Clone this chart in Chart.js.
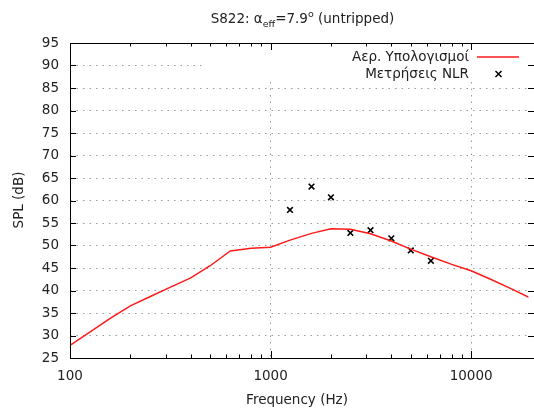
<!DOCTYPE html>
<html>
<head>
<meta charset="utf-8">
<script src="https://cdn.jsdelivr.net/npm/chart.js@4/dist/chart.umd.min.js"></script>
<style>
  html, body { margin: 0; padding: 0; background: #fff; }
  #wrap { width: 534px; height: 412px; }
</style>
</head>
<body>
<div id="wrap"><canvas id="c" width="534" height="412"></canvas></div>
<script>
// computed spectrum (Αερ. Υπολογισμοί)
const calcFreq = [100, 125, 160, 200, 250, 315, 400, 500, 630, 800, 1000, 1250, 1600, 2000, 2500, 3150, 4000, 5000, 6300, 8000, 10000, 12500, 16000, 20000];
const calcSpl  = [27.8, 30.7, 33.9, 36.6, 38.6, 40.7, 42.8, 45.5, 48.8, 49.4, 49.6, 51.2, 52.7, 53.7, 53.6, 52.6, 51.0, 49.2, 47.5, 45.8, 44.4, 42.5, 40.3, 38.2];
// NLR measurements (Μετρήσεις NLR)
const measFreq = [1250, 1600, 2000, 2500, 3150, 4000, 5000, 6300];
const measSpl  = [57.9, 63.1, 60.7, 52.8, 53.4, 51.6, 48.9, 46.6];
// tick labels
const xTickVals = [100, 1000, 10000];
const yTicks = [25, 30, 35, 40, 45, 50, 55, 60, 65, 70, 75, 80, 85, 90, 95];

const FONT = '"DejaVu Sans", sans-serif';
const FS = 13.5;
const TXT = '#222';
const GRID = '#9a9a9a';

const gnuplotDeco = {
  id: 'gnuplotDeco',
  beforeDatasetsDraw(chart) {
    const ctx = chart.ctx, a = chart.chartArea;
    // key box blanks the grid behind it
    ctx.save();
    ctx.fillStyle = '#fff';
    ctx.fillRect(205, a.top + 1, a.right - 205 + 2, 81 - a.top);
    ctx.restore();
  },
  afterDatasetsDraw(chart) {
    const ctx = chart.ctx, a = chart.chartArea;
    const xs = chart.scales.x, ys = chart.scales.y;
    ctx.save();
    // border
    ctx.strokeStyle = '#000';
    ctx.lineWidth = 1;
    ctx.beginPath();
    ctx.moveTo(a.left + 0.5, a.top + 0.5);
    ctx.lineTo(534, a.top + 0.5);
    ctx.moveTo(a.left + 0.5, a.top);
    ctx.lineTo(a.left + 0.5, a.bottom + 0.5);
    ctx.lineTo(534, a.bottom + 0.5);
    ctx.stroke();
    // inward ticks
    ctx.beginPath();
    yTicks.forEach(v => {
      const y = Math.round(ys.getPixelForValue(v)) + 0.5;
      ctx.moveTo(a.left, y); ctx.lineTo(a.left + 6, y);
      ctx.moveTo(534, y); ctx.lineTo(528, y);
    });
    for (let dec = 100; dec <= 10000; dec *= 10) {
      for (let m = 1; m <= 9; m++) {
        const v = dec * m;
        if (v > xs.max) continue;
        const x = Math.round(xs.getPixelForValue(v)) + 0.5;
        const len = m === 1 ? 7 : 3.5;
        ctx.moveTo(x, a.bottom); ctx.lineTo(x, a.bottom - len);
        ctx.moveTo(x, a.top); ctx.lineTo(x, a.top + len);
      }
    }
    ctx.stroke();

    // title
    ctx.fillStyle = TXT;
    ctx.textBaseline = 'alphabetic';
    const big = FS + 'px ' + FONT, small = '9.5px ' + FONT;
    const parts = [
      ['S822: α', big, 0], ['eff', small, 4], ['=7.9', big, 0], ['o', small, -6], [' (untripped)', big, 0]
    ];
    let w = 0;
    parts.forEach(p => { ctx.font = p[1]; w += ctx.measureText(p[0]).width; });
    let x = 302.5 - w / 2;
    ctx.textAlign = 'left';
    parts.forEach(p => { ctx.font = p[1]; ctx.fillText(p[0], x, 23 + p[2]); x += ctx.measureText(p[0]).width; });

    // axis titles
    ctx.font = FS + 'px ' + FONT;
    ctx.textAlign = 'center';
    ctx.textBaseline = 'middle';
    ctx.fillText('Frequency (Hz)', 297, 400);
    ctx.save();
    ctx.translate(19, 200);
    ctx.rotate(-Math.PI / 2);
    ctx.fillText('SPL (dB)', 0, 0);
    ctx.restore();

    // key
    ctx.textAlign = 'right';
    ctx.fillText(chart.data.datasets[0].label, 469, 57);
    ctx.fillText(chart.data.datasets[1].label, 469, 74);
    ctx.strokeStyle = '#ff1a1a';
    ctx.lineWidth = 1.5;
    ctx.beginPath();
    ctx.moveTo(477, 57); ctx.lineTo(519, 57);
    ctx.stroke();
    ctx.strokeStyle = '#000';
    ctx.beginPath();
    ctx.moveTo(495.5, 71); ctx.lineTo(501.5, 77);
    ctx.moveTo(501.5, 71); ctx.lineTo(495.5, 77);
    ctx.stroke();
    ctx.restore();
  }
};

new Chart(document.getElementById('c'), {
  type: 'line',
  data: {
    datasets: [
      {
        label: 'Αερ. Υπολογισμοί',
        data: calcFreq.map((f, i) => ({ x: f, y: calcSpl[i] })),
        borderColor: '#ff1a1a',
        borderWidth: 1.5,
        pointRadius: 0,
        tension: 0,
        fill: false
      },
      {
        label: 'Μετρήσεις NLR',
        data: measFreq.map((f, i) => ({ x: f, y: measSpl[i] })),
        showLine: false,
        pointStyle: 'crossRot',
        pointRadius: 4,
        pointBorderWidth: 1.6,
        borderColor: '#000',
        backgroundColor: '#000'
      }
    ]
  },
  options: {
    responsive: false,
    animation: false,
    devicePixelRatio: 1,
    layout: { padding: { top: 43, right: 0, left: 0, bottom: 0 } },
    plugins: { legend: { display: false }, title: { display: false }, tooltip: { enabled: false } },
    scales: {
      x: {
        type: 'logarithmic',
        min: 100,
        max: 19300,
        afterBuildTicks(scale) { scale.ticks = xTickVals.map(v => ({ value: v })); },
        afterFit(scale) { scale.height = 54; },
        ticks: {
          autoSkip: false,
          maxRotation: 0,
          padding: 10,
          color: TXT,
          font: { family: FONT, size: FS },
          callback: v => String(v)
        },
        grid: {
          drawTicks: false,
          color: c => (c.tick && c.tick.value === 100) ? 'rgba(0,0,0,0)' : GRID,
          lineWidth: 1
        },
        border: { display: false, dash: [1.5, 5] }
      },
      y: {
        min: 25,
        max: 95,
        afterBuildTicks(scale) { scale.ticks = yTicks.map(v => ({ value: v })); },
        afterFit(scale) { scale.width = 70; },
        ticks: {
          autoSkip: false,
          padding: 11,
          color: TXT,
          font: { family: FONT, size: FS }
        },
        grid: {
          drawTicks: false,
          color: c => (c.tick && (c.tick.value === 25 || c.tick.value === 95)) ? 'rgba(0,0,0,0)' : GRID,
          lineWidth: 1
        },
        border: { display: false, dash: [1.5, 5] }
      }
    }
  },
  plugins: [gnuplotDeco]
});
</script>
</body>
</html>
